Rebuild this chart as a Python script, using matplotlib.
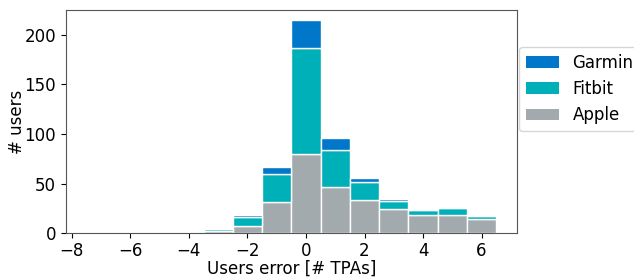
import numpy as np
import matplotlib
matplotlib.use("Agg")
import matplotlib.pyplot as plt
from matplotlib.patches import Patch

bin_centers = [-7, -6, -5, -4, -3, -2, -1, 0, 1, 2, 3, 4, 5, 6]
apple  = [0, 0, 0, 0, 2, 7, 31, 80, 47, 33, 24, 18, 18, 14]
fitbit = [0, 0, 0, 1, 2, 9, 29, 107, 37, 19, 8, 5, 7, 3]
garmin = [0, 0, 0, 0, 0, 2, 7, 28, 12, 4, 2, 0, 0, 0]

series = ["Apple", "Fitbit", "Garmin"]
colors = {"Apple": "#A2AAAD", "Fitbit": "#00B0B9", "Garmin": "#0077C8"}

plt.rcParams['font.family'] = ['DejaVu Sans']
plt.rcParams['font.size'] = 12

fig = plt.figure(figsize=(6.34, 2.77), dpi=100)
ax = fig.add_axes([0.104, 0.158, 0.711, 0.806])

x = np.array(bin_centers, dtype=float)
bottom = np.zeros(len(x))
for name, vals in zip(series, [apple, fitbit, garmin]):
    v = np.array(vals, dtype=float)
    ax.bar(x, v, width=1.0, bottom=bottom, color=colors[name],
           edgecolor="white", linewidth=1.0, label=name)
    bottom += v

ax.set_xlim(-8.2, 7.2)
ax.set_ylim(0, 225)
ax.set_xticks([-8, -6, -4, -2, 0, 2, 4, 6])
ax.set_yticks([0, 50, 100, 150, 200])
ax.tick_params(axis="x", pad=2.5)
ax.set_xlabel("Users error [# TPAs]", labelpad=0)
ax.set_ylabel("# users", labelpad=-1)
for s in ax.spines.values():
    s.set_color("#555555")

handles = [Patch(facecolor=colors[n], label=n) for n in ["Garmin", "Fitbit", "Apple"]]
ax.legend(handles=handles, loc="upper left", bbox_to_anchor=(1.0, 0.845),
          borderaxespad=0.15)

fig.savefig("out.png", dpi=100)
